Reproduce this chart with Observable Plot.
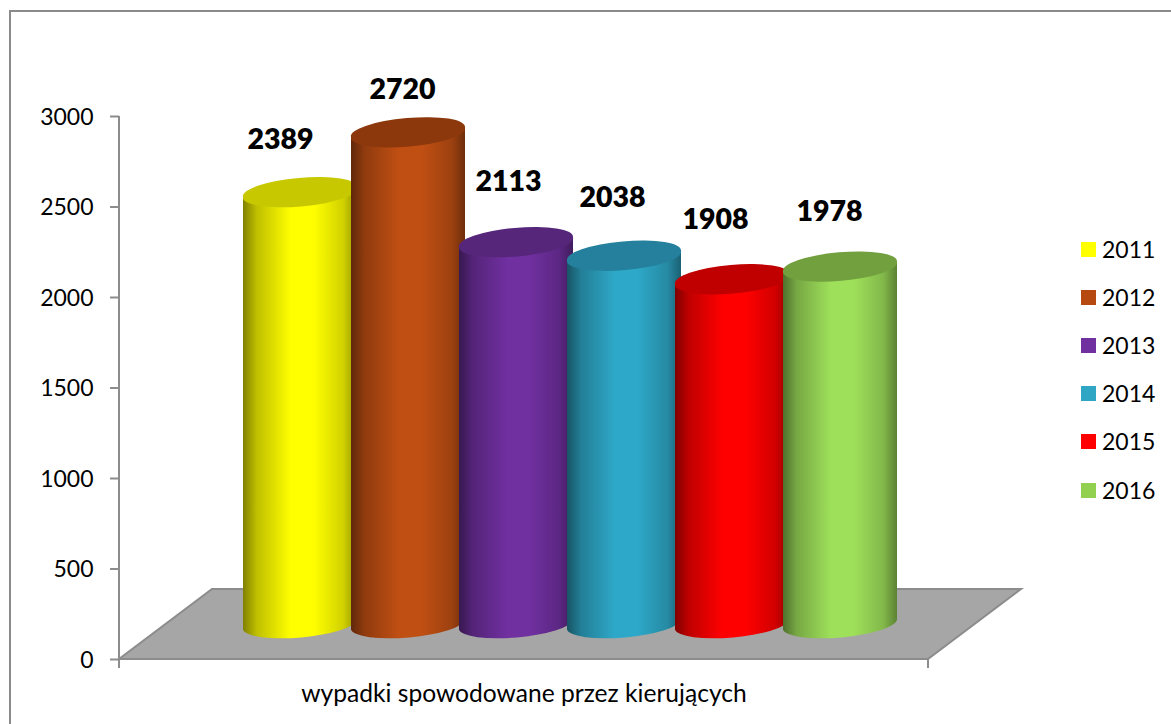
<!DOCTYPE html>
<html lang="pl">
<head>
<meta charset="utf-8">
<script src="https://cdn.jsdelivr.net/npm/d3@7"></script>
<script src="https://cdn.jsdelivr.net/npm/@observablehq/plot@0.6"></script>
<style>
  html, body { margin: 0; padding: 0; background: #fff; overflow: hidden; }
  #page { position: relative; width: 1171px; height: 724px; font-family: Lato, sans-serif; color: #000; }
  #border { position: absolute; left: 8.5px; top: 9.5px; width: 1171px; height: 800px; border: 2px solid #8a8a8a; box-sizing: border-box; }
  #legend { position: absolute; left: 1081px; top: 236px; }
  #legend div { position: absolute; left: 0; white-space: nowrap; font-size: 23px; line-height: 26px; height: 26px; }
  #legend i { position: absolute; left: 0; top: 5.5px; width: 15px; height: 15px; }
  #legend span { position: absolute; left: 21px; top: -0.5px; }
  svg { position: absolute; left: 0; top: 0; background: transparent !important; }
</style>
</head>
<body>
<div id="page"><div id="border"></div><div id="legend"></div></div>
<script>
const years = ["2011", "2012", "2013", "2014", "2015", "2016"];
const values = [2389, 2720, 2113, 2038, 1908, 1978];
const bodyColors = ["#ffff00", "#c04f13", "#7030a0", "#2ea8c8", "#ff0000", "#9ee05a"];
const capColors = ["#c8c800", "#8c380c", "#55267a", "#24809c", "#c00000", "#72a03e"];
const legendColors = ["#ffff00", "#b5490f", "#7030a0", "#2ea6c4", "#ff0000", "#92d050"];
const yTicks = [0, 500, 1000, 1500, 2000, 2500, 3000];
const axisTitle = "wypadki spowodowane przez kierujących";
const labelDx = [-20, -6, -8, -12, -17, -11];
const labelDy = [-52.5, -43, -60.5, -58.5, -60, -55.5];

const lift = 190;       // height of the cylinders' base above the front floor edge, in axis units
const floorDepth = 387; // floor depth, in axis units
const gray = "#8c8c8c";
const rows = years.map((year, i) => ({year, value: values[i], i}));

function shade(c, k) {
  const r = d3.rgb(c);
  return d3.rgb(r.r * k, r.g * k, r.b * k).formatHex();
}

function floorMark(index, {y}, v, {width, marginLeft, marginRight}) {
  const x0 = marginLeft, x1 = width - marginRight, y0 = y(0), yb = y(floorDepth), d = 93;
  const g = d3.create("svg:g");
  g.append("path")
    .attr("d", `M${x0},${y0}L${x1},${y0}L${x1 + d},${yb}L${x0 + d},${yb}Z`)
    .attr("fill", "#a6a6a6").attr("stroke", gray).attr("stroke-width", 2);
  for (const t of [x0, x1]) {
    g.append("line").attr("x1", t).attr("x2", t).attr("y1", y0).attr("y2", y0 + 9)
      .attr("stroke", gray).attr("stroke-width", 2);
  }
  g.append("line").attr("x1", x0).attr("x2", x0).attr("y1", y(3000)).attr("y2", y0)
    .attr("stroke", gray).attr("stroke-width", 2);
  return g.node();
}

function cylinderRender(index, scales, v) {
  const bw = scales.x.bandwidth();
  const w = 114, rx = w / 2 + 0.3, ry = 13.6, rot = -5, t = 5;
  const g = d3.create("svg:g");
  const defs = g.append("defs");
  for (const i of index) {
    const c = bodyColors[i];
    const grad = defs.append("linearGradient").attr("id", `cyl${i}`)
      .attr("x1", 0).attr("x2", 1).attr("y1", 0).attr("y2", 0);
    [[0, .5], [.12, .75], [.42, 1], [.62, 1], [.88, .82], [1, .58]].forEach(([o, k]) =>
      grad.append("stop").attr("offset", o).attr("stop-color", shade(c, k)));
    const cx = v.x[i] + bw / 2;
    const l = cx - w / 2, r = cx + w / 2;
    const yb = v.y1[i], yt = v.y2[i];
    g.append("path")
      .attr("d", `M${l},${yt + t}L${l},${yb + t}A${rx},${ry} ${rot} 0 0 ${r},${yb - t}L${r},${yt - t}Z`)
      .attr("fill", `url(#cyl${i})`);
    g.append("path")
      .attr("d", `M${l},${yt + t}A${rx},${ry} ${rot} 1 1 ${r},${yt - t}A${rx},${ry} ${rot} 1 1 ${l},${yt + t}Z`)
      .attr("fill", capColors[i]);
  }
  return g.node();
}

const chart = Plot.plot({
  width: 1171,
  height: 724,
  marginLeft: 119,
  marginRight: 243,
  marginTop: 116,
  marginBottom: 65,
  style: {fontFamily: "Lato, sans-serif", color: "#000", overflow: "visible"},
  x: {type: "band", domain: years, range: [165.5, 974.5], paddingInner: 0, paddingOuter: 0.74, axis: null},
  y: {domain: [0, 3000], axis: null},
  marks: [
    floorMark,
    Plot.axisY({ticks: yTicks, tickSize: 9, text: null, label: null, stroke: gray, strokeWidth: 2, strokeOpacity: 1}),
    Plot.axisY({
      ticks: yTicks, tickSize: 0, tickPadding: 26, dy: 1, label: null,
      fill: "#000", fontSize: 23, tickFormat: d => String(d)
    }),
    Plot.barY(rows, {x: "year", y1: () => lift, y2: d => d.value + lift, render: cylinderRender}),
    rows.map((d, i) => Plot.text([d], {
      x: "year", y: r => r.value + lift, text: r => String(r.value),
      dx: labelDx[i], dy: labelDy[i], fontSize: 28.5, fontWeight: 800, fill: "#000"
    })),
    Plot.text([axisTitle], {frameAnchor: "bottom", dy: 42, fontSize: 24.6, fill: "#000"})
  ]
});
document.getElementById("page").appendChild(chart);

const legend = document.getElementById("legend");
years.forEach((year, i) => {
  const row = document.createElement("div");
  row.style.top = (i * 48.2) + "px";
  const sw = document.createElement("i");
  sw.style.background = legendColors[i];
  const tx = document.createElement("span");
  tx.textContent = year;
  row.append(sw, tx);
  legend.append(row);
});
</script>
</body>
</html>
